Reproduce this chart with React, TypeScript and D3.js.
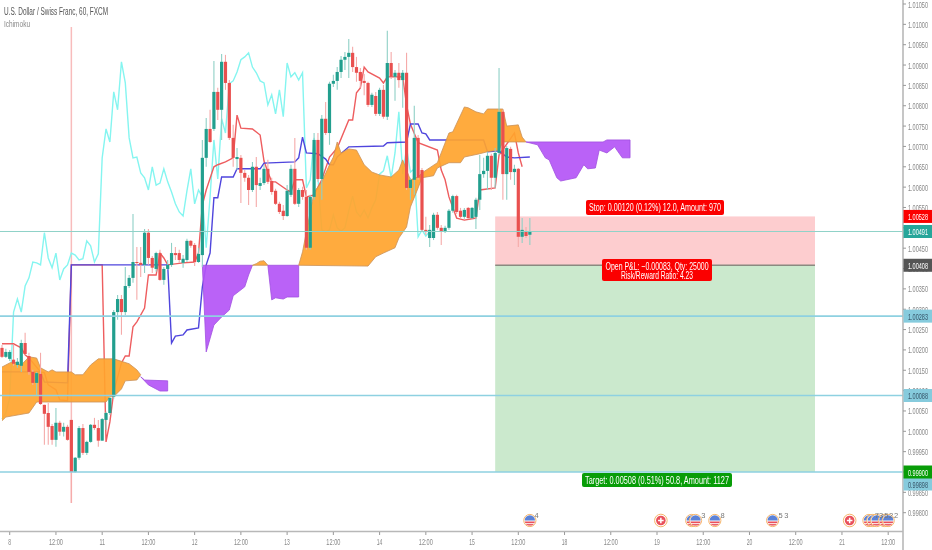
import * as d3 from 'd3'
import { useEffect, useRef } from 'react'

const width = 932
const height = 550

// prices are kept as points above 1.00000, so 491 is 1.00491 and -100 is 0.99900
const opens = [
  205, 183, 178, 176, 163, 161, 217, 185, 146, 119, 141, 65, 45, 13, -21, 21, -1, 11, 28, -100,
  -65, 8, -53, -26, 16, 8, -23, 28, 45, 85, 293, 325, 293, 357, 377, 416, 414, 409, 488, 426,
  399, 438, 372, 399, 409, 438, 438, 414, 421, 468, 458, 416, 433, 672, 743, 743, 834, 790, 908, 856,
  721, 669, 672, 635, 623, 593, 650, 603, 610, 645, 615, 591, 559, 542, 529, 581, 645, 559, 593, 576,
  451, 576, 716, 620, 768, 733, 854, 861, 883, 913, 920, 930, 895, 883, 861, 856, 802, 824, 780, 839,
  773, 905, 871, 881, 863, 881, 598, 618, 721, 642, 495, 475, 475, 532, 500, 492, 500, 542, 578, 542,
  527, 549, 524, 527, 569, 632, 640, 677, 623, 684, 785, 632, 694, 637, 645, 478, 492, 483,
]
const closes = [
  183, 195, 195, 166, 171, 217, 190, 146, 119, 143, 67, 43, 11, -21, 21, -1, 11, -21, -100, -65,
  8, -53, -26, 16, 8, -23, 30, 45, 82, 293, 325, 293, 357, 377, 416, 414, 409, 488, 426, 402,
  438, 372, 399, 409, 438, 433, 421, 424, 468, 456, 416, 436, 672, 743, 711, 834, 790, 908, 856, 721,
  672, 674, 635, 623, 593, 650, 605, 610, 645, 613, 588, 559, 539, 529, 591, 645, 559, 593, 576, 451,
  576, 716, 620, 768, 733, 854, 861, 883, 913, 920, 930, 895, 881, 861, 856, 802, 827, 780, 839, 773,
  905, 871, 881, 863, 881, 598, 618, 721, 623, 495, 490, 495, 532, 500, 492, 500, 542, 578, 539, 527,
  544, 524, 549, 569, 632, 640, 677, 623, 684, 785, 632, 696, 637, 645, 478, 495, 480, 491,
]
const highs = [
  212, 203, 200, 212, 180, 225, 242, 193, 151, 146, 193, 65, 70, 18, 57, 26, 21, 16, 28, -63,
  13, 18, -23, 18, 33, 28, 33, 48, 85, 298, 335, 335, 404, 384, 534, 453, 453, 497, 497, 431,
  441, 446, 404, 421, 463, 453, 446, 433, 473, 470, 463, 451, 716, 770, 790, 910, 844, 927, 925, 863,
  753, 696, 679, 642, 630, 662, 674, 623, 655, 667, 623, 596, 564, 556, 605, 655, 721, 598, 601, 593,
  581, 733, 733, 777, 809, 859, 876, 895, 922, 932, 964, 945, 920, 893, 878, 859, 832, 834, 844, 851,
  984, 932, 888, 905, 888, 930, 623, 800, 728, 647, 527, 507, 537, 539, 507, 505, 546, 581, 581, 549,
  549, 551, 551, 574, 679, 672, 687, 682, 696, 893, 790, 701, 699, 655, 647, 524, 502, 524,
]
const lows = [
  180, 180, 173, 161, 156, 146, 188, 139, 114, 89, 65, -33, -33, -33, -38, -11, -13, -23, -176, -102,
  -70, -58, -58, -28, 3, -38, -23, 3, 40, 80, 274, 237, 286, 352, 365, 323, 379, 389, 409, 389,
  392, 370, 360, 397, 404, 421, 414, 402, 416, 451, 406, 414, 404, 650, 709, 738, 765, 716, 839, 716,
  650, 642, 561, 613, 556, 588, 551, 593, 605, 608, 581, 556, 534, 519, 527, 576, 556, 551, 569, 446,
  446, 569, 613, 569, 728, 704, 846, 839, 868, 888, 868, 883, 859, 844, 826, 797, 797, 775, 775, 768,
  765, 866, 812, 844, 795, 593, 569, 581, 618, 490, 483, 453, 470, 495, 458, 487, 495, 537, 534, 522,
  522, 522, 522, 497, 544, 623, 593, 593, 598, 679, 569, 569, 618, 605, 453, 463, 475, 458,
]

// ichimoku turning points as [bar, points]
const tenkan: [number, number][] = [
  [0, 215], [3, 215], [4, 210], [5, 205], [6, 188], [7, 180], [10, 146], [11, 144], [12, 114], [14, 102],
  [15, 77], [17, 75], [18, 409], [26, 409], [27, -26], [28, 23], [29, 97], [31, 168], [32, 185], [33, 185],
  [34, 257], [35, 269], [37, 303], [38, 384], [40, 384], [41, 438], [42, 426], [43, 409], [47, 414], [50, 416],
  [51, 438], [52, 556], [53, 593], [55, 650], [56, 655], [58, 662], [60, 672], [61, 777], [62, 745], [65, 743],
  [67, 728], [68, 664], [69, 637], [70, 613], [71, 613], [74, 593], [75, 588], [76, 618], [78, 618], [79, 576],
  [81, 581], [83, 618], [85, 674], [87, 696], [90, 765], [91, 765], [92, 832], [93, 844], [94, 895], [95, 883],
  [98, 868], [99, 856], [100, 871], [104, 871], [105, 802], [106, 755], [108, 709], [113, 691], [114, 642], [115, 618],
  [116, 576], [118, 524], [120, 519], [123, 524], [124, 593], [128, 598], [129, 679], [133, 733], [134, 684], [135, 650],
]
const kijun: [number, number][] = [
  [0, 146], [10, 146], [11, 121], [17, 119], [18, 409], [43, 409], [44, 217], [45, 234], [47, 237], [48, 249],
  [51, 254], [52, 355], [53, 409], [54, 438], [55, 574], [56, 574], [57, 625], [60, 625], [61, 645], [67, 645],
  [68, 659], [76, 662], [77, 672], [78, 723], [79, 684], [82, 682], [84, 669], [85, 655], [86, 655], [87, 674],
  [90, 699], [99, 701], [100, 709], [105, 711], [106, 755], [108, 755], [109, 733], [110, 731], [111, 716], [125, 716],
  [126, 687], [129, 689], [131, 674], [133, 672], [137, 674],
]

const cloud1Top: [number, number][] = [
  [0, 158], [2, 168], [3, 171], [5, 163], [7, 183], [9, 180], [10, 156], [12, 146], [13, 151], [14, 146],
  [18, 146], [19, 139], [21, 139], [23, 163], [25, 178], [29, 178], [33, 166], [35, 151], [36, 139],
]
const cloud1Bottom: [number, number][] = [
  [0, 26], [1, 35], [7, 45], [9, 72], [27, 72], [28, 85], [29, 85], [31, 104], [32, 124], [35, 126], [36, 139],
]
const cloud2Top: [number, number][] = [[36, 134], [37, 126], [43, 124]]
const cloud2Bottom: [number, number][] = [[36, 134], [38, 114], [41, 99], [43, 99]]
const cloud3Top: [number, number][] = [[52, 408], [65, 408]]
const cloud3Bottom: [number, number][] = [
  [52, 408], [53, 195], [55, 261], [57, 281], [59, 298], [60, 333], [63, 355], [64, 384], [65, 408],
]
const cloud4Top: [number, number][] = [[65, 408], [66, 412], [67, 418], [68, 419], [69, 408]]
const cloud4Bottom: [number, number][] = [[65, 408], [69, 408]]
const cloud5Top: [number, number][] = [[69, 408], [77, 408]]
const cloud5Bottom: [number, number][] = [
  [69, 408], [70, 323], [71, 328], [73, 325], [74, 330], [77, 330], [77, 408],
]
const cloud6Top: [number, number][] = [
  [77, 408], [78, 441], [81, 588], [83, 613], [85, 655], [86, 674], [87, 711], [88, 684], [90, 694], [92, 691],
  [94, 655], [96, 637], [98, 630], [101, 625], [103, 642], [104, 667], [105, 642], [106, 618], [108, 625], [109, 635],
  [113, 660], [116, 733], [117, 736], [120, 797], [121, 795], [123, 785], [125, 780], [126, 792], [130, 792], [131, 750],
  [134, 753], [135, 723], [136, 711],
]
const cloud6Bottom: [number, number][] = [
  [77, 408], [95, 406], [97, 429], [99, 438], [102, 451], [103, 475], [105, 502], [106, 551], [108, 598], [109, 623],
  [112, 628], [113, 647], [116, 660], [119, 660], [120, 674], [124, 682], [126, 687], [129, 691], [130, 711], [136, 711],
]
const cloud7Top: [number, number][] = [[136, 711], [156, 711], [157, 716], [163, 716]]
const cloud7Bottom: [number, number][] = [
  [136, 711], [139, 704], [141, 672], [142, 667], [144, 623], [145, 615], [149, 623], [151, 655], [152, 645], [154, 647],
  [155, 691], [157, 684], [159, 699], [161, 672], [163, 672],
]

const timeTicks = [2, 14, 26, 38, 50, 62, 74, 86, 98, 110, 122, 134, 146, 158, 170, 182, 194, 206, 218, 230]
const timeLabels = ['8', '12:00', '11', '12:00', '12', '12:00', '13', '12:00', '14', '12:00', '15', '12:00', '18', '12:00', '19', '12:00', '20', '12:00', '21', '12:00']
const priceTicks = d3.range(1050, -201, -50)

const alertLevels = [283, 88, -100]
const lastPrice = 491
const stopPrice = 528
const entryPrice = 408
const targetPrice = -100
const positionBars = [128, 211]

const usEvents = [137, 179, 180, 185, 200, 225, 226, 227, 229, 230]
const swissEvents = [171, 220]
const eventCounts: [number, string][] = [[138.2, '4'], [181.5, '3'], [186.5, '8'], [201.5, '5'], [203, '3'], [226.5, '7'], [227.6, '3'], [229, '5'], [230.2, '2'], [231.5, '2']]

const fmt = (p: number) => (1 + p / 1e5).toFixed(5)

const App = () => {
  const ref = useRef<SVGSVGElement>(null)

  useEffect(() => {
    const svg = d3.select(ref.current)
    svg.selectAll('*').remove()

    const x = d3.scaleLinear().domain([0, 230]).range([2, 2 + 230 * 3.853])
    const y = d3.scaleLinear().domain([1050, -200]).range([4, 512.7])
    const line = d3.line<[number, number]>().x(d => x(d[0])).y(d => y(d[1]))

    svg.append('rect').attr('width', width).attr('height', height).attr('fill', '#fff')

    // marker on the low bar
    svg.append('line')
      .attr('x1', x(18)).attr('x2', x(18)).attr('y1', 27).attr('y2', 503)
      .attr('stroke', '#f8bcbc').attr('stroke-width', 1.5)

    // long position tool
    svg.append('rect')
      .attr('x', x(positionBars[0])).attr('width', x(positionBars[1]) - x(positionBars[0]))
      .attr('y', y(stopPrice)).attr('height', y(entryPrice) - y(stopPrice))
      .attr('fill', '#fdcdcf')
    svg.append('rect')
      .attr('x', x(positionBars[0])).attr('width', x(positionBars[1]) - x(positionBars[0]))
      .attr('y', y(entryPrice)).attr('height', y(targetPrice) - y(entryPrice))
      .attr('fill', '#cbe9cd')
    svg.append('line')
      .attr('x1', x(positionBars[0])).attr('x2', x(positionBars[1]))
      .attr('y1', y(entryPrice)).attr('y2', y(entryPrice))
      .attr('stroke', '#8a8a80').attr('stroke-width', 1.5)

    // lagging span is the close moved back 26 bars
    svg.append('path')
      .attr('d', line(closes.slice(26).map((c, i) => [i, c] as [number, number])))
      .attr('fill', 'none').attr('stroke', '#85f5f0').attr('stroke-width', 1.4)
    svg.append('path').attr('d', line(tenkan))
      .attr('fill', 'none').attr('stroke', '#ee5d5f').attr('stroke-width', 1.4)
    svg.append('path').attr('d', line(kijun))
      .attr('fill', 'none').attr('stroke', '#4f45dd').attr('stroke-width', 1.4)

    const orange = '#ffa42e'
    const purple = '#b455f6'
    const clouds: [[number, number][], [number, number][], string][] = [
      [cloud1Top, cloud1Bottom, orange],
      [cloud2Top, cloud2Bottom, purple],
      [cloud3Top, cloud3Bottom, purple],
      [cloud4Top, cloud4Bottom, orange],
      [cloud5Top, cloud5Bottom, purple],
      [cloud6Top, cloud6Bottom, orange],
      [cloud7Top, cloud7Bottom, purple],
    ]
    svg.append('g').selectAll('path').data(clouds).join('path')
      .attr('d', d => line([...d[0], ...[...d[1]].reverse()]))
      .attr('fill', d => d[2])
      .attr('fill-opacity', 0.92)
      .attr('stroke', d => (d[2] === orange ? '#c9925a' : '#a04fe0'))
      .attr('stroke-width', 0.8)

    // candles
    const green = '#229f8e'
    const red = '#e9504f'
    const bars = svg.append('g').selectAll('g').data(d3.range(opens.length)).join('g')
    bars.append('line')
      .attr('x1', i => x(i)).attr('x2', i => x(i))
      .attr('y1', i => y(highs[i])).attr('y2', i => y(lows[i]))
      .attr('stroke', i => (closes[i] >= opens[i] ? '#8fd0c6' : '#f5aaa9'))
      .attr('stroke-width', 1.1)
    bars.append('rect')
      .attr('x', i => x(i) - 1.6).attr('width', 3.2)
      .attr('y', i => y(Math.max(opens[i], closes[i])))
      .attr('height', i => Math.max(1, Math.abs(y(opens[i]) - y(closes[i]))))
      .attr('fill', i => (closes[i] >= opens[i] ? green : red))

    // horizontal levels
    svg.append('g').selectAll('line').data(alertLevels).join('line')
      .attr('x1', 0).attr('x2', 903)
      .attr('y1', d => y(d)).attr('y2', d => y(d))
      .attr('stroke', '#8ed1e1').attr('stroke-width', 1.6)
    svg.append('line')
      .attr('x1', 0).attr('x2', 903).attr('y1', y(lastPrice)).attr('y2', y(lastPrice))
      .attr('stroke', '#8fd2c8').attr('stroke-width', 1)

    const font = '"Liberation Sans", Arial, sans-serif'

    // axes
    svg.append('line').attr('x1', 0).attr('x2', 903).attr('y1', 531.5).attr('y2', 531.5)
      .attr('stroke', '#b8b8b8').attr('stroke-width', 1.6)
    svg.append('line').attr('x1', 903).attr('x2', 903).attr('y1', 0).attr('y2', height)
      .attr('stroke', '#b8b8b8').attr('stroke-width', 1.6)
    const xTicks = svg.append('g').selectAll('g').data(timeTicks).join('g')
      .attr('transform', d => `translate(${x(d)},0)`)
    xTicks.append('line').attr('y1', 532).attr('y2', 535).attr('stroke', '#999')
    xTicks.append('text').attr('y', 545).attr('text-anchor', 'middle')
      .attr('font-family', font).attr('font-size', 9.5).attr('fill', '#888')
      .attr('textLength', (_, i) => timeLabels[i].length * 2.8)
      .attr('lengthAdjust', 'spacingAndGlyphs')
      .text((_, i) => timeLabels[i])
    const yTicks = svg.append('g').selectAll('g').data(priceTicks).join('g')
      .attr('transform', d => `translate(0,${y(d)})`)
    yTicks.append('line').attr('x1', 903).attr('x2', 906).attr('stroke', '#999')
    yTicks.append('text').attr('x', 908).attr('y', 3.5).attr('textLength', 20).attr('lengthAdjust', 'spacingAndGlyphs')
      .attr('font-family', font).attr('font-size', 9.5).attr('fill', '#888')
      .text(d => fmt(d))

    // price badges
    const badges: [number, number, string, string][] = [
      [stopPrice, y(stopPrice), '#fb0000', '#fff'],
      [lastPrice, y(lastPrice), '#26a69a', '#fff'],
      [entryPrice, y(entryPrice), '#555', '#fff'],
      [alertLevels[0], y(alertLevels[0]), '#86cbdd', '#38566a'],
      [alertLevels[1], y(alertLevels[1]), '#86cbdd', '#38566a'],
      [-102, 484, '#86cbdd', '#38566a'],
      [targetPrice, y(targetPrice), '#089d08', '#fff'],
    ]
    const badge = svg.append('g').selectAll('g').data(badges).join('g')
      .attr('transform', d => `translate(903.5,${d[1]})`)
    badge.append('rect').attr('y', -6.5).attr('width', 29).attr('height', 13).attr('fill', d => d[2])
    badge.append('text').attr('x', 4.5).attr('y', 3.5).attr('textLength', 20).attr('lengthAdjust', 'spacingAndGlyphs')
      .attr('font-family', font).attr('font-size', 9.5).attr('fill', d => d[3])
      .text(d => fmt(d[0]))

    // position tool labels
    const labels: [number, number, number, number, string, [string, number][]][] = [
      [586, 200, 138, 15, '#fb0000', [['Stop: 0.00120 (0.12%) 12.0, Amount: 970', 132]]],
      [602, 259, 110, 22, '#fb0000', [['Open P&L: \u22120.00083, Qty: 25000', 103], ['Risk/Reward Ratio: 4.23', 72]]],
      [582, 473, 150, 14, '#089d08', [['Target: 0.00508 (0.51%) 50.8, Amount: 1127', 144]]],
    ]
    const label = svg.append('g').selectAll('g').data(labels).join('g')
    label.append('rect')
      .attr('x', d => d[0]).attr('y', d => d[1]).attr('width', d => d[2]).attr('height', d => d[3])
      .attr('rx', 2).attr('fill', d => d[4])
    label.each(function (d) {
      d3.select(this).selectAll('text').data(d[5]).join('text')
        .attr('x', d[0] + d[2] / 2)
        .attr('y', (_, i) => d[1] + 10.5 + i * 9)
        .attr('text-anchor', 'middle')
        .attr('font-family', font).attr('font-size', 10).attr('fill', '#fff')
        .attr('textLength', t => t[1]).attr('lengthAdjust', 'spacingAndGlyphs')
        .text(t => t[0])
    })

    // event markers
    const eventY = 520.5
    const defs = svg.append('defs')
    defs.append('clipPath').attr('id', 'flag').append('circle').attr('r', 5.2)
    const us = svg.append('g').selectAll('g').data(usEvents).join('g')
      .attr('transform', d => `translate(${x(d)},${eventY})`)
    us.append('circle').attr('r', 6.1).attr('fill', '#fff').attr('stroke', '#f6b56a').attr('stroke-width', 1)
    const flag = us.append('g').attr('clip-path', 'url(#flag)')
    flag.append('rect').attr('x', -5.5).attr('y', -5.5).attr('width', 11).attr('height', 5.5).attr('fill', '#5b82d8')
    flag.append('rect').attr('x', -5.5).attr('y', 1).attr('width', 11).attr('height', 1.7).attr('fill', '#e9505a')
    flag.append('rect').attr('x', -5.5).attr('y', 3.6).attr('width', 11).attr('height', 1.7).attr('fill', '#e9505a')
    const ch = svg.append('g').selectAll('g').data(swissEvents).join('g')
      .attr('transform', d => `translate(${x(d)},${eventY})`)
    ch.append('circle').attr('r', 6.3).attr('fill', '#fff').attr('stroke', '#f6b56a').attr('stroke-width', 1)
    ch.append('circle').attr('r', 4.8).attr('fill', '#e9505a')
    ch.append('path').attr('d', 'M-2.8 0H2.8M0 -2.8V2.8').attr('stroke', '#fff').attr('stroke-width', 1.5)
    svg.append('g').selectAll('text').data(eventCounts).join('text')
      .attr('x', d => x(d[0])).attr('y', 518)
      .attr('font-family', font).attr('font-size', 7.5).attr('fill', '#777')
      .text(d => d[1])

    // header
    svg.append('text').attr('x', 4).attr('y', 15)
      .attr('font-family', font).attr('font-size', 10).attr('fill', '#555')
      .attr('textLength', 104).attr('lengthAdjust', 'spacingAndGlyphs')
      .text('U.S. Dollar / Swiss Franc, 60, FXCM')
    svg.append('text').attr('x', 4).attr('y', 27)
      .attr('font-family', font).attr('font-size', 9.5).attr('fill', '#888')
      .attr('textLength', 26).attr('lengthAdjust', 'spacingAndGlyphs')
      .text('Ichimoku')
  }, [])

  return (
    <svg
      ref={ref}
      width={width}
      height={height}
      style={{ position: 'absolute', left: 0, top: 0, filter: 'blur(0.45px)' }}
    />
  )
}

export default App
